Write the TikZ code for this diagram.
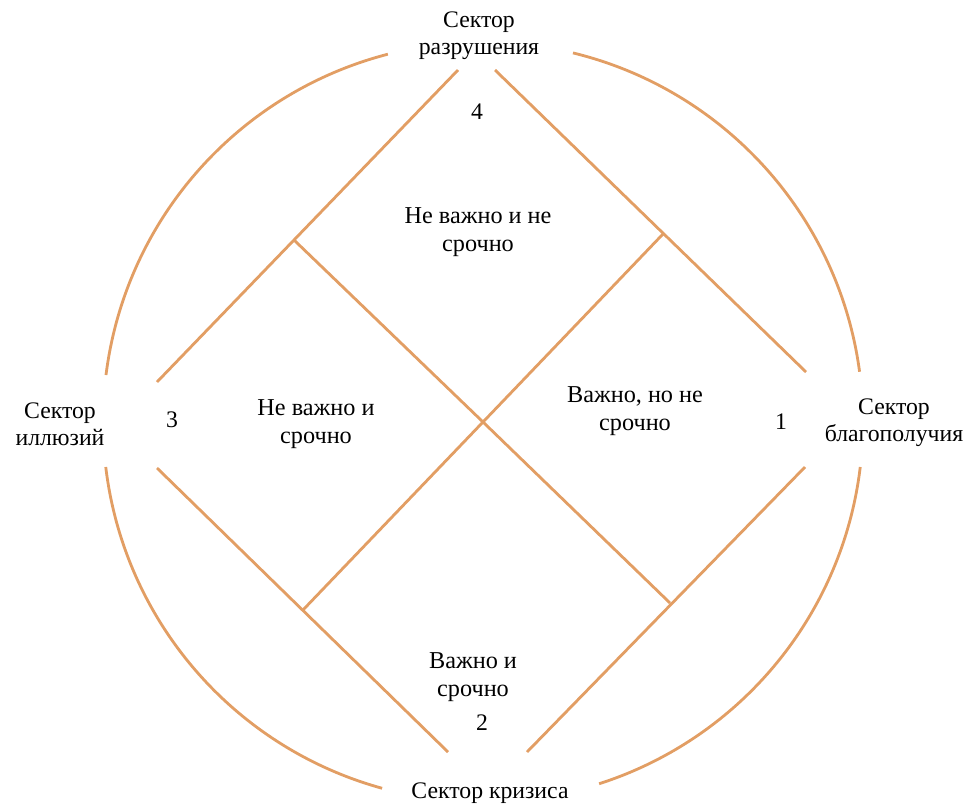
\documentclass[tikz,border=0pt]{standalone}
\usepackage{fontspec}
\setmainfont{Liberation Serif}
\usepackage{xcolor}
\usetikzlibrary{calc}
\definecolor{lineorange}{RGB}{226,158,100}

\begin{document}
\begin{tikzpicture}[
    x=0.02cm, y=-0.02cm,
    edge/.style={draw=lineorange, line width=1.6pt},
    sector/.style={align=center, font=\fontsize{13.5}{15.5}\selectfont},
    quad/.style={align=center, font=\fontsize{13.8}{15.8}\selectfont},
    num/.style={font=\fontsize{13.5}{15.5}\selectfont}
]
\useasboundingbox (0,0) rectangle (973,805);

% Centre of the scheme
\coordinate (c) at (483,422);

% Outer circle, broken at the four sectors
\draw[edge] (c) ++(104.5:7.6cm) arc[start angle=104.5, end angle=172.9, radius=7.6cm];
\draw[edge] (c) ++(76.3:7.6cm) arc[start angle=76.3, end angle=7.6, radius=7.6cm];
\draw[edge] (c) ++(-6.8:7.6cm) arc[start angle=-6.8, end angle=-72.2, radius=7.6cm];
\draw[edge] (c) ++(186.8:7.6cm) arc[start angle=186.8, end angle=254.6, radius=7.6cm];

% Diamond sides
\coordinate (tl1) at (157,382); \coordinate (tl2) at (458,70);
\coordinate (tr1) at (495,70);  \coordinate (tr2) at (806,372);
\coordinate (br1) at (805,467); \coordinate (br2) at (527,752);
\coordinate (bl1) at (448,752); \coordinate (bl2) at (157,468);
\draw[edge] (tl1) -- (tl2);
\draw[edge] (tr1) -- (tr2);
\draw[edge] (br1) -- (br2);
\draw[edge] (bl1) -- (bl2);

% Cross through the centre
\coordinate (ml) at (294,240); \coordinate (mr) at (670,603);
\coordinate (nr) at (663,234); \coordinate (nl) at (302,611);
\draw[edge] (ml) -- (c) -- (mr);
\draw[edge] (nr) -- (c) -- (nl);

% Sectors
\node[sector] (razr) at (479,36) {Сектор\\разрушения};
\node[sector] (illuz) at (60,424) {Сектор\\иллюзий};
\node[sector] (blago) at (894,423) {Сектор\\благополучия};
\node[sector] (kriz) at (490,793) {Сектор кризиса};

% Numbers
\node[num] (n4) at (477,112) {4};
\node[num] (n3) at (172,420) {3};
\node[num] (n1) at (781,422) {1};
\node[num] (n2) at (482,723) {2};

% Quadrants
\node[quad] (q4) at (478,232) {Не важно и не\\срочно};
\node[quad] (q3) at (316,424) {Не важно и\\срочно};
\node[quad] (q1) at (635,411) {Важно, но не\\срочно};
\node[quad] (q2) at (473,677) {Важно и\\срочно};

\end{tikzpicture}
\end{document}
